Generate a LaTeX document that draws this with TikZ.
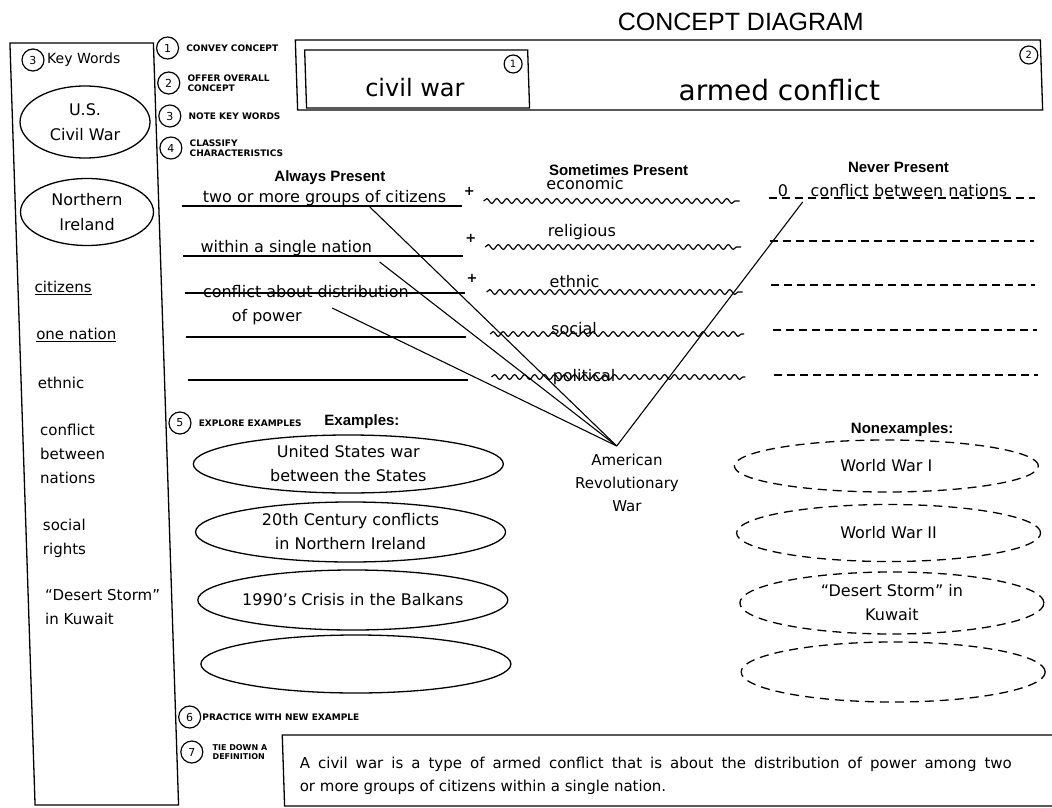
\documentclass[tikz,border=0pt]{standalone}
\usepackage{fontspec}
\setmainfont{DejaVu Sans}
\newfontfamily\headfont{Liberation Sans}
\usetikzlibrary{shapes.geometric,decorations.pathmorphing,positioning}
\tikzset{
  framebox/.style={line width=1.3pt},
  stepnum/.style={circle, draw, line width=1.2pt, minimum size=22pt, inner sep=0pt, font=\fontsize{11}{11}\selectfont},
  steplabel/.style={anchor=west, align=left, inner sep=0pt, font=\fontsize{9}{10}\selectfont\bfseries},
  keyword/.style={anchor=west, align=left, inner sep=0pt, font=\fontsize{15}{24}\selectfont},
  keyoval/.style={ellipse, draw, line width=1.3pt, minimum width=130pt, minimum height=72pt, inner sep=0pt, align=center, font=\fontsize{16}{25}\selectfont},
  exoval/.style={ellipse, draw, line width=1.3pt, minimum width=310pt, minimum height=58pt, inner sep=0pt, inner xsep=-20pt, align=center, font=\fontsize{16}{24}\selectfont},
  nonoval/.style={exoval, dash pattern=on 9pt off 6pt, minimum width=304pt},
  colhead/.style={font=\headfont\bfseries\fontsize{15}{15}\selectfont},
  traittext/.style={anchor=base west, inner sep=0pt, font=\fontsize{16}{16}\selectfont},
  alwaysline/.style={line width=1.3pt},
  sometimesline/.style={line width=1.2pt, decorate, decoration={snake, segment length=10pt, amplitude=2.4pt}},
  neverline/.style={line width=1.2pt, dash pattern=on 8pt off 5pt},
  plussign/.style={inner sep=0pt, font=\bfseries\fontsize{13}{13}\selectfont},
  link/.style={line width=1.1pt},
}
\begin{document}
\begin{tikzpicture}[x=1pt, y=-1pt]
  \path[fill=white, use as bounding box] (0,0) rectangle (1052,808);
  \begin{scope}[xslant=-0.033]
  \node[font=\headfont\fontsize{25}{25}\selectfont] (title) at (740,22) {CONCEPT DIAGRAM};

  \draw[framebox] (8.5,43) rectangle (152,805);
  \node[stepnum] (kwnum) at (31,60) {3};
  \node[anchor=west, inner sep=0pt, font=\fontsize{14}{14}\selectfont] (kwhead) at (45,60) {Key Words};
  \node[keyoval] (usoval) at (81,122) {U.S.\\Civil War};
  \node[keyoval, minimum width=133pt, minimum height=67pt] (nioval) at (80,212) {Northern\\Ireland};
  \node[keyword] (kwcit) at (25,288) {\underline{citizens}};
  \node[keyword] (kwone) at (25,335) {\underline{one nation}};
  \node[keyword] (kweth) at (25,383) {ethnic};
  \node[keyword] (kwbet) at (25,454) {conflict\\between\\nations};
  \node[keyword] (kwsoc) at (25,538) {social\\rights};
  \node[keyword] (kwdes) at (25,607) {``Desert Storm''\\in Kuwait};

  \node[stepnum] (s1) at (166,48) {1};
  \node[steplabel, right=7pt of s1] (s1txt) {CONVEY CONCEPT};
  \node[stepnum] (s2) at (166,83) {2};
  \node[steplabel, right=7pt of s2] (s2txt) {OFFER OVERALL\\CONCEPT};
  \node[stepnum] (s3) at (166,116) {3};
  \node[steplabel, right=7pt of s3] (s3txt) {NOTE KEY WORDS};
  \node[stepnum] (s4) at (166,148) {4};
  \node[steplabel, right=7pt of s4] (s4txt) {CLASSIFY\\CHARACTERISTICS};
  \node[stepnum] (s5) at (166,423) {5};
  \node[steplabel, right=7pt of s5] (s5txt) {EXPLORE EXAMPLES};
  \node[stepnum] (s6) at (166,717) {6};
  \node[steplabel, right=1pt of s6] (s6txt) {PRACTICE WITH NEW EXAMPLE};
  \node[stepnum] (s7) at (167,752) {7};
  \node[steplabel, right=9pt of s7, font=\fontsize{8}{9.5}\selectfont\bfseries] (s7txt) {TIE DOWN A\\DEFINITION};

  \draw[framebox] (294,40) rectangle (1039,110);
  \draw[framebox] (303,50) rectangle (526,108);
  \node[font=\fontsize{24}{24}\selectfont] (civil) at (412,88) {civil war};
  \node[stepnum, minimum size=18pt, font=\fontsize{10}{10}\selectfont] (c1) at (511,64) {1};
  \node[anchor=base, inner sep=0pt, font=\fontsize{28}{28}\selectfont] (armed) at (776,100) {armed conflict};
  \node[stepnum, minimum size=18pt, font=\fontsize{10}{10}\selectfont] (c2) at (1027,55) {2};

  \node[colhead] (always) at (324,178) {Always Present};
  \node[colhead] (sometimes) at (613,170) {Sometimes Present};
  \node[colhead] (never) at (893,167) {Never Present};

  \draw[alwaysline] (175,206) -- (455,206);
  \draw[alwaysline] (175,256) -- (455,256);
  \draw[alwaysline] (175,293) -- (455,293);
  \draw[alwaysline] (175,337) -- (455,337);
  \draw[alwaysline] (175,380) -- (455,380);
  \node[traittext] (groups) at (196,202) {two or more groups of citizens};
  \node[traittext] (single) at (192,252) {within a single nation};
  \node[traittext] (distrib) at (193,297) {conflict about distribution};
  \node[traittext] (power) at (221,321) {of power};
  \node[plussign] (plusa) at (463,191) {+};
  \node[plussign] (plusb) at (463,238) {+};
  \node[plussign] (plusc) at (463,278) {+};

  \draw[sometimesline] (477,201) -- (733,201);
  \draw[sometimesline] (477,247) -- (733,247);
  \draw[sometimesline] (477,292) -- (733,292);
  \draw[sometimesline] (479,334) -- (733,334);
  \draw[sometimesline] (479,377) -- (733,377);
  \node[traittext] (econ) at (540,189) {economic};
  \node[traittext] (relig) at (540,236) {religious};
  \node[traittext] (ethn) at (540,287) {ethnic};
  \node[traittext] (soc) at (540,334) {social};
  \node[traittext] (polit) at (540,381) {political};

  \draw[neverline] (762,198) -- (1028,198);
  \draw[neverline] (762,241) -- (1026,241);
  \draw[neverline] (762,285) -- (1026,285);
  \draw[neverline] (762,330) -- (1026,330);
  \draw[neverline] (762,375) -- (1026,375);
  \node[traittext, anchor=base] (zero) at (776.5,196) {0};
  \node[traittext] (between) at (804,196) {conflict between nations};

  \node[align=center, font=\fontsize{15}{23}\selectfont] (amrev) at (611,483) {American\\Revolutionary\\War};
  \coordinate (apex) at (602,446);
  \coordinate (groupsfoot) at (363,207);
  \coordinate (nationfoot) at (371,262);
  \coordinate (powerfoot) at (322,308);
  \coordinate (zerofoot) at (796,202);
  \draw[link] (groupsfoot) -- (apex);
  \draw[link] (nationfoot) -- (apex);
  \draw[link] (powerfoot) -- (apex);
  \draw[link] (apex) -- (zerofoot);

  \node[colhead] (extitle) at (348,422) {Examples:};
  \node[exoval] (ex1) at (333,464) {United States war\\between the States};
  \node[exoval, minimum height=60pt] (ex2) at (333,532) {20th Century conflicts\\in Northern Ireland};
  \node[exoval, minimum height=60pt] (ex3) at (333,600) {1990's Crisis in the Balkans};
  \node[exoval] (ex4) at (334,664) {};

  \node[colhead] (nontitle) at (888,430) {Nonexamples:};
  \node[nonoval, minimum height=52pt] (non1) at (871,466) {World War I};
  \node[nonoval, minimum height=57pt] (non2) at (871,533) {World War II};
  \node[nonoval, minimum height=62pt] (non3) at (872,603) {``Desert Storm'' in\\Kuwait};
  \node[nonoval, minimum height=60pt] (non4) at (871,672) {};

  \draw[framebox] (258,735) rectangle (1040,806);
  \node[anchor=west, align=left, inner sep=0pt, font=\fontsize{15}{23}\selectfont] (deftext) at (274,776) {\makebox[712pt][s]{A civil war is a type of armed conflict that is about the distribution of power among two}\\or more groups of citizens within a single nation.};
  \end{scope}
\end{tikzpicture}
\end{document}
